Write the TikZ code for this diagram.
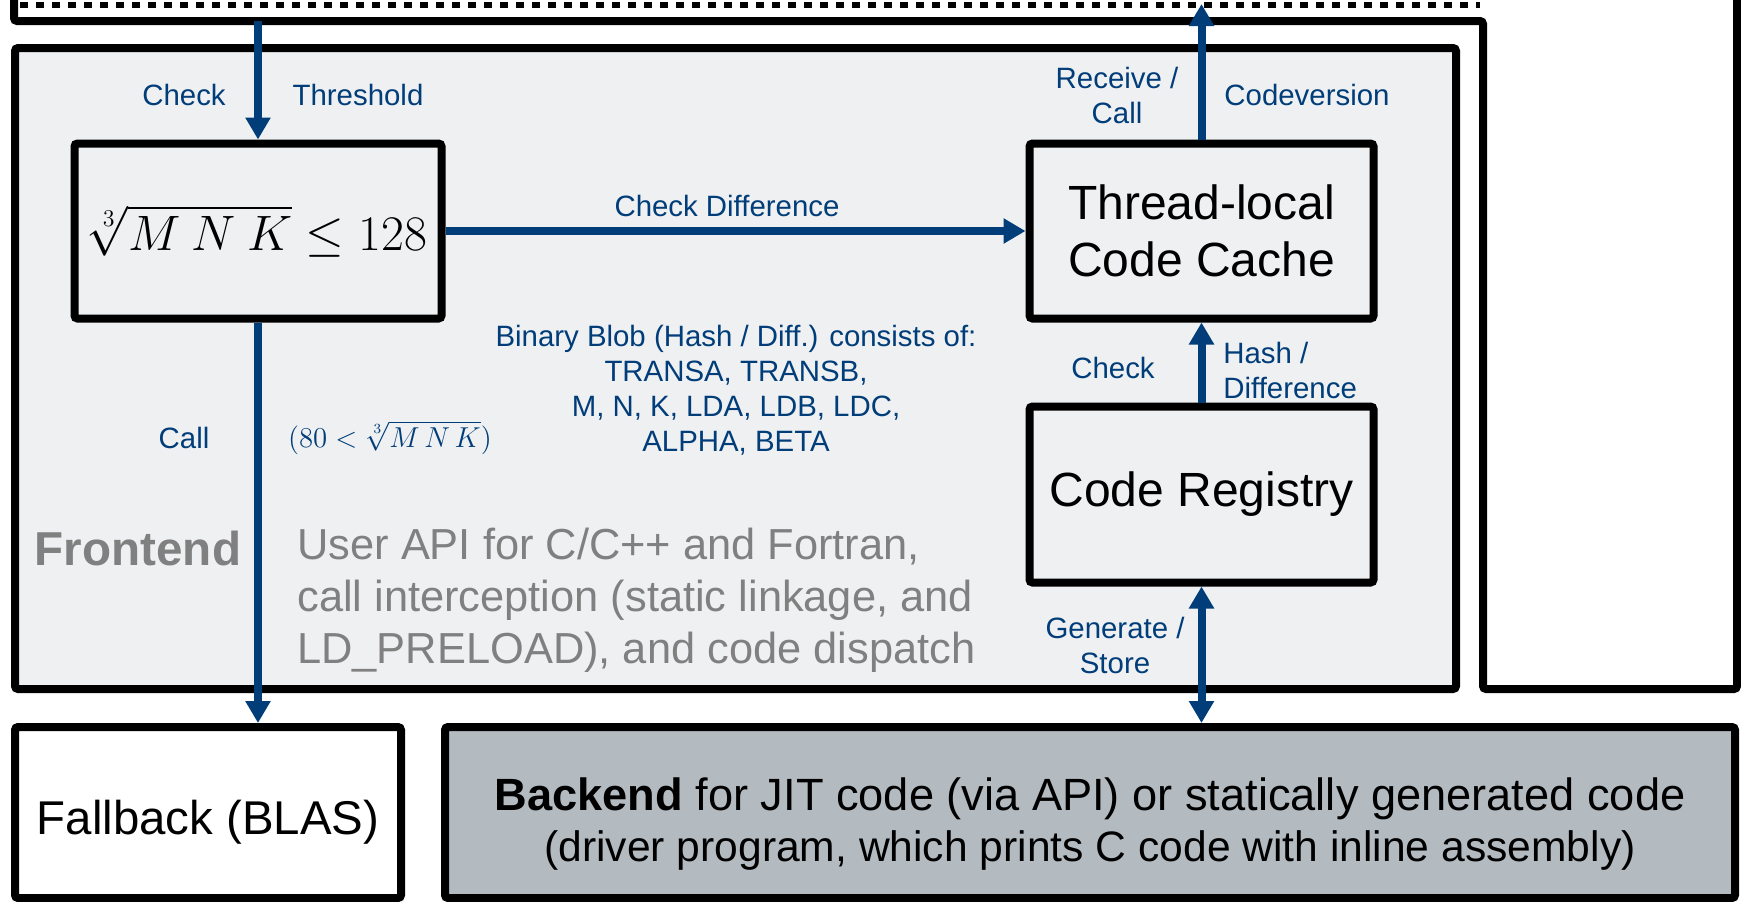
\documentclass[tikz,border=0pt]{standalone}
\usepackage{fontspec}
\setmainfont{Liberation Sans}
\usetikzlibrary{arrows.meta}
\definecolor{flowblue}{RGB}{0,61,121}
\definecolor{frontgray}{RGB}{239,240,242}
\definecolor{backgray}{RGB}{179,186,192}
\definecolor{textgray}{RGB}{128,128,128}
\tikzset{
  box/.style={draw=black, line width=4pt, rounded corners=1.5pt, inner sep=0pt, align=center},
  flow/.style={draw=flowblue, line width=4pt, -{Triangle[length=11pt,width=12pt]}},
  lbl/.style={text=flowblue, inner sep=0pt, align=center, font=\fontsize{14.7}{17.5}\selectfont},
  big/.style={font=\fontsize{24}{28.5}\selectfont},
}
\begin{document}
\begin{tikzpicture}[x=0.5pt, y=-0.5pt]
\useasboundingbox (0,0) rectangle (1741,901);
% frames cut off at the top
\draw[line width=4pt, rounded corners=1.5pt] (14,0) |- (1483,21) -- (1483,689) -- (1737,689) -- (1737,0);
\draw[line width=3pt, dash pattern=on 4pt off 4pt] (20,5) -- (1480,5);
% frontend
\node[box, fill=frontgray, minimum width=720.5pt, minimum height=320.5pt] (front) at (735.5,368.5) {};
\node[box, fill=frontgray, minimum width=183.5pt, minimum height=87.5pt] (thr) at (258,231)
  {\fontsize{24}{28}\selectfont $\sqrt[3]{M\:N\:K}\leq 128$};
\node[box, big, fill=frontgray, minimum width=172pt, minimum height=87.5pt] (cache) at (1201.5,231)
  {Thread-local\\Code Cache};
\node[box, big, fill=frontgray, minimum width=172pt, minimum height=88pt] (reg) at (1201.5,494.5)
  {Code Registry};
% bottom row
\node[box, fill=white, minimum width=193pt, minimum height=85.5pt] (fall) at (208,812.5) {};
\node[box, fill=backgray, minimum width=645pt, minimum height=85.5pt] (back) at (1090,812.5) {};
\node[font=\fontsize{23.7}{28}\selectfont, inner sep=0pt] (falltxt) at ([yshift=-5pt]fall.center) {Fallback (BLAS)};
\node[font=\fontsize{22.6}{25.5}\selectfont, inner sep=0pt, align=center] (backtxt) at ([yshift=-6pt]back.center)
  {\textbf{Backend} for JIT code (via API) or statically generated code\\
   \fontsize{21.3}{25.5}\selectfont (driver program, which prints C code with inline assembly)};
% connectors
\coordinate (thrin) at (258,21);
\coordinate (cvout) at (1201.5,4);
\draw[flow] (thrin) -- (thr.north);
\draw[flow] (thr.east) -- (cache.west);
\draw[flow] (cache.north) -- (cvout);
\draw[flow] (reg.north) -- (cache.south);
\draw[flow] (thr.south) -- (thr.south |- fall.north);
\draw[flow, {Triangle[length=11pt,width=12pt]}-{Triangle[length=11pt,width=12pt]}] (reg.south) -- (reg.south |- back.north);
% labels
\node[lbl] (lcheck) at (184,95) {Check};
\node[lbl] (lthres) at (358,95) {Threshold};
\node[lbl] (lrecv) at (1117,95) {Receive /\\Call};
\node[lbl] (lcv) at (1307,95) {Codeversion};
\node[lbl] (ldiff) at (727,206) {Check Difference};
\node[lbl] (lblob) at (736,390) {Binary Blob (Hash / Diff.) consists of:\\TRANSA, TRANSB,\\M, N, K, LDA, LDB, LDC,\\ALPHA, BETA};
\node[lbl] (lcheck2) at (1113,368) {Check};
\node[lbl, anchor=west, align=left] (lhash) at (1223,370) {Hash /\\Difference};
\node[lbl] (lcall) at (184,438) {Call};
\node[lbl] (lrange) at (390,438) {$(80<\sqrt[3]{M\,N\,K})$};
\node[lbl] (lgen) at (1115,645) {Generate /\\Store};
% frontend description
\node[text=textgray, inner sep=0pt, font=\fontsize{23.8}{28}\selectfont\bfseries] (lfront) at (138,548) {Frontend};
\node[text=textgray, inner sep=0pt, anchor=west, align=left, font=\fontsize{21.7}{26}\selectfont] (ldesc) at (297,600)
  {User API for C/C++ and Fortran,\\call interception (static linkage, and\\LD\_PRELOAD), and code dispatch};
\end{tikzpicture}
\end{document}
